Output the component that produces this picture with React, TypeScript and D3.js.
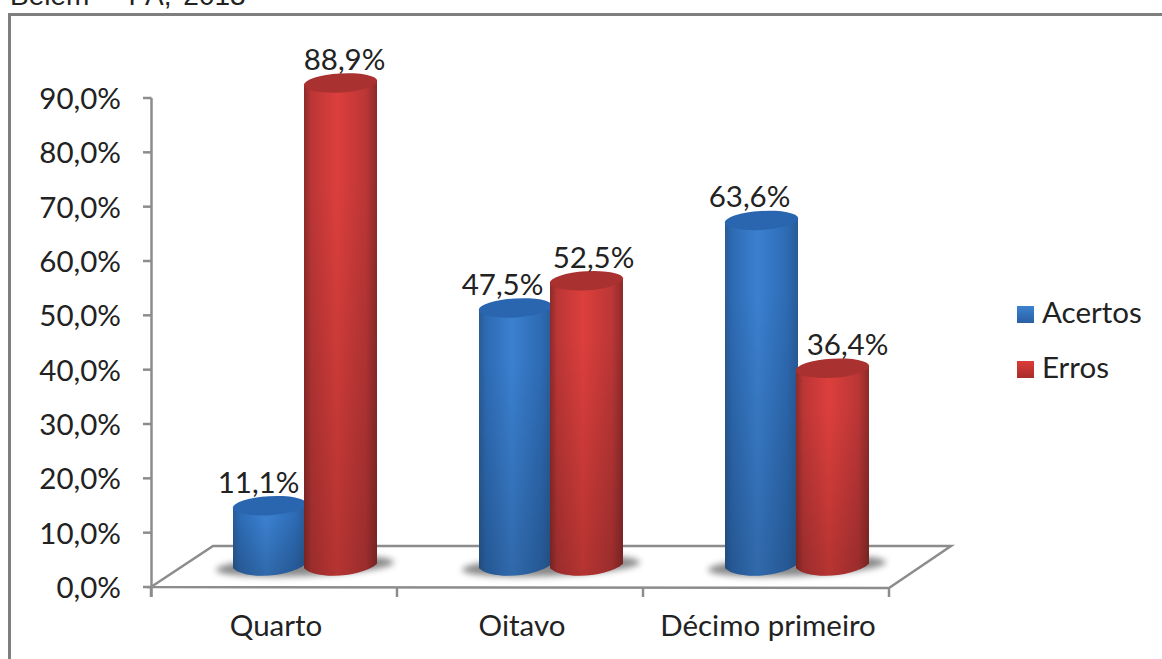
import React from "react";
import * as d3 from "d3";

const categories = ["Quarto", "Oitavo", "Décimo primeiro"];
const seriesNames = ["Acertos", "Erros"];
const acertos = [11.1, 47.5, 63.6];
const erros = [88.9, 52.5, 36.4];
const yTicks = [0, 10, 20, 30, 40, 50, 60, 70, 80, 90];
const caption = "Belém – PA, 2013";

const comma = (v: number) => v.toFixed(1).replace(".", ",") + "%";
const sans = "Lato, 'Open Sans', sans-serif";
const labelSize = 29.5;

const y = d3.scaleLinear().domain([0, 90]).range([587, 98]);
const x = d3.scaleBand<string>().domain(categories).range([151, 889]);
const barW = 73;
const rx = barW / 2;
const ry = 9.5;
// The perspective leans each cylinder's end caps up to the right.
const tiltDeg = -3.5;
const tiltRise = rx * Math.sin((-tiltDeg * Math.PI) / 180);
// Cylinders stand on the floor, set back from the front edge of the axis.
const floorShift = 21;
const depthX = 62;
const series = [
  { name: seriesNames[0], values: acertos, key: "blue", offset: 82, nudge: [-11, -13, -12] },
  { name: seriesNames[1], values: erros, key: "red", offset: 153, nudge: [4, 7, 15] },
];

const palette: Record<string, { edge: string; mid: string; core: string; top: string; swatch: [string, string] }> = {
  blue: { edge: "#2a5b96", mid: "#2d6bb4", core: "#3b80d0", top: "#2a66b0", swatch: ["#3c82d0", "#2a5fa5"] },
  red: { edge: "#8e2a2a", mid: "#bb3636", core: "#dc3f3c", top: "#a93130", swatch: ["#dc3c3a", "#a82c2c"] },
};

function Cylinder({ cx, value, k }: { cx: number; value: number; k: string }) {
  const top = y(value) - floorShift;
  const base = y(0) - floorShift;
  const left = cx - rx;
  const right = cx + rx;
  const body = d3.path();
  body.moveTo(left, top + tiltRise);
  body.lineTo(left, base + tiltRise);
  body.bezierCurveTo(
    left + 14,
    base + tiltRise + ry * 1.33,
    right - 14,
    base - tiltRise + ry * 1.33,
    right,
    base - tiltRise
  );
  body.lineTo(right, top - tiltRise);
  body.closePath();
  return (
    <g>
      <path d={body.toString()} fill={`url(#side-${k})`} />
      <path d={body.toString()} fill="url(#fade)" />
      <ellipse
        cx={cx}
        cy={top}
        rx={rx + 0.3}
        ry={ry}
        fill={palette[k].top}
        transform={`rotate(${tiltDeg} ${cx} ${top})`}
      />
    </g>
  );
}

export default function App() {
  const axisColor = "#8c8c8c";
  const textColor = "#222";
  return (
    <svg
      width={1162}
      height={659}
      style={{ position: "absolute", left: 0, top: 0, background: "#fff" }}
    >
      <defs>
        {Object.entries(palette).map(([k, p]) => (
          <React.Fragment key={k}>
            <linearGradient id={`side-${k}`} x1="0" x2="1" y1="0" y2="0">
              <stop offset="0" stopColor={p.edge} />
              <stop offset="0.1" stopColor={p.mid} />
              <stop offset="0.45" stopColor={p.core} />
              <stop offset="0.85" stopColor={p.mid} />
              <stop offset="1" stopColor={p.edge} />
            </linearGradient>
            <linearGradient id={`swatch-${k}`} x1="0" x2="0" y1="0" y2="1">
              <stop offset="0" stopColor={p.swatch[0]} />
              <stop offset="1" stopColor={p.swatch[1]} />
            </linearGradient>
          </React.Fragment>
        ))}
        <linearGradient id="fade" x1="0" x2="0" y1="0" y2="1">
          <stop offset="0.2" stopColor="#000" stopOpacity="0" />
          <stop offset="1" stopColor="#000" stopOpacity="0.18" />
        </linearGradient>
        <filter id="soft" x="-30%" y="-80%" width="160%" height="260%">
          <feGaussianBlur stdDeviation="3" />
        </filter>
      </defs>

      <text
        x={10}
        y={4.5}
        fontFamily="'Liberation Sans', Arial, sans-serif"
        fontSize={28}
        wordSpacing={4}
        fill="#222"
      >
        {caption}
      </text>
      <rect x={9.5} y={14.5} width={1170} height={660} fill="none" stroke="#7f7f7f" strokeWidth={3} />

      {/* Floor of the plot */}
      <path
        d={`M${x.range()[0]},${y(0)}L${x.range()[0] + depthX},${y(0) - 41}H${x.range()[1] + depthX}L${x.range()[1]},${y(0) + 1}Z`}
        fill="none"
        stroke={axisColor}
        strokeWidth={2.5}
      />

      {/* Value axis */}
      <line x1={151.5} x2={151.5} y1={y(90)} y2={597} stroke={axisColor} strokeWidth={2.5} />
      {yTicks.map((t) => (
        <g key={t}>
          <line x1={143} x2={151.5} y1={y(t)} y2={y(t)} stroke={axisColor} strokeWidth={2.5} />
          <text
            x={121}
            y={y(t) + 11}
            textAnchor="end"
            fontFamily={sans}
            fontSize={labelSize}
            fill={textColor}
          >
            {comma(t)}
          </text>
        </g>
      ))}

      {/* Category axis */}
      {[...categories.map((c) => x(c)! + x.bandwidth()), x.range()[0]].map((tx) => (
        <line key={tx} x1={tx} x2={tx} y1={y(0)} y2={597} stroke={axisColor} strokeWidth={2.5} />
      ))}
      {categories.map((c) => (
        <text
          key={c}
          x={x(c)! + x.bandwidth() / 2 + 2}
          y={636}
          textAnchor="middle"
          fontFamily={sans}
          fontSize={labelSize}
          fill={textColor}
        >
          {c}
        </text>
      ))}

      {/* Contact shadows on the floor */}
      {categories.map((c) => {
        const sx = x(c)! + 154;
        const sy = y(0) - 21;
        return (
          <ellipse
            key={c}
            cx={sx}
            cy={sy}
            rx={89}
            ry={10}
            fill="#757575"
            opacity={0.85}
            filter="url(#soft)"
            transform={`rotate(-2.5 ${sx} ${sy})`}
          />
        );
      })}

      {/* Cylinders; the second series overlaps the first */}
      {series.map((s) =>
        categories.map((c, i) => (
          <Cylinder key={s.name + c} cx={x(c)! + s.offset + rx} value={s.values[i]} k={s.key} />
        ))
      )}

      {/* Value labels */}
      {series.map((s) =>
        categories.map((c, i) => (
          <text
            key={s.name + c}
            x={x(c)! + s.offset + rx + s.nudge[i]}
            y={y(s.values[i]) - floorShift - 13}
            textAnchor="middle"
            fontFamily={sans}
            fontSize={labelSize}
            fill={textColor}
          >
            {comma(s.values[i])}
          </text>
        ))
      )}

      {/* Legend */}
      {series.map((s, i) => (
        <g key={s.name}>
          <rect x={1017} y={306 + i * 55} width={17} height={17} fill={`url(#swatch-${s.key})`} />
          <text x={1042} y={323 + i * 55} fontFamily={sans} fontSize={labelSize} fill={textColor}>
            {s.name}
          </text>
        </g>
      ))}
    </svg>
  );
}
